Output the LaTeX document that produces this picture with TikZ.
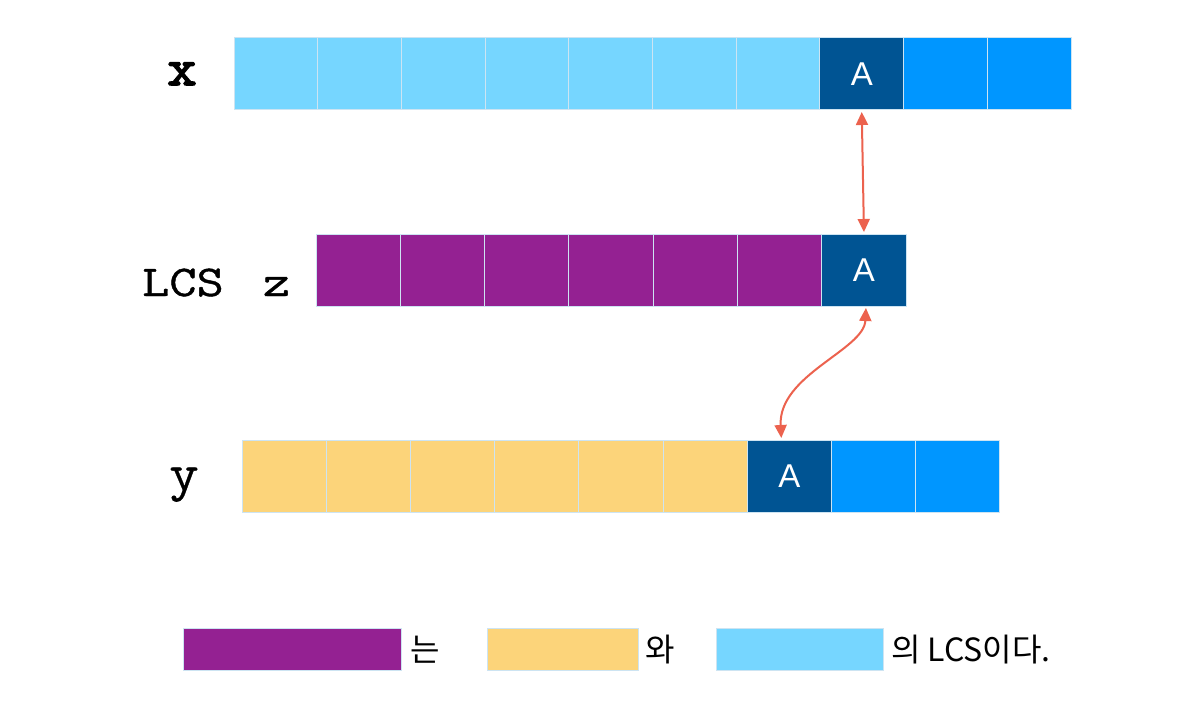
\documentclass[tikz,border=0pt]{standalone}
\usepackage{fontspec}
\setmainfont{Liberation Sans}
\newfontfamily\courier{Latin Modern Mono}[FakeStretch=1.2, FakeBold=1]
\newfontfamily\couriery{Latin Modern Mono}[FakeStretch=1.1, FakeBold=0.6]
\newfontfamily\courierbold{Latin Modern Mono}[FakeStretch=1.1, FakeBold=3]
\newfontfamily\krfont{Noto Sans CJK KR}
\usetikzlibrary{arrows.meta}
\definecolor{lightblue}{RGB}{118,214,255}
\definecolor{brightblue}{RGB}{0,150,255}
\definecolor{darkblue}{RGB}{0,84,147}
\definecolor{plum}{RGB}{148,33,146}
\definecolor{cantaloupe}{RGB}{252,212,122}
\definecolor{arrowred}{RGB}{236,98,78}
\definecolor{cellline}{RGB}{205,228,242}
\tikzset{
  cell/.style={draw=cellline, line width=1pt, minimum height=72pt, inner sep=0pt, outer sep=0pt},
  lbl/.style={font=\courier\fontsize{44}{44}\selectfont, inner sep=0pt, anchor=base},
  letter/.style={text=white, font=\fontsize{33}{33}\selectfont},
  legend/.style={draw=cellline, line width=1pt, minimum height=42pt, inner sep=0pt, outer sep=0pt},
  kr/.style={font=\krfont\fontsize{32}{32}\selectfont, inner sep=0pt},
  arr/.style={draw=arrowred, line width=2pt, {Triangle[length=13pt,width=12pt]}-{Triangle[length=13pt,width=12pt]}}
}
\begin{document}
\begin{tikzpicture}[x=1pt,y=-1pt]
\useasboundingbox[fill=white] (0,0) rectangle (1204,714);
% row x
\foreach \i in {0,...,6}{
  \node[cell, fill=lightblue, minimum width=83.7pt] (x\i) at ({234+83.7*\i+41.85},74) {};
}
\node[cell, fill=darkblue, minimum width=83.7pt] (xA) at ({234+83.7*7+41.85},74) {};
\node[letter] (xAt) at (xA.center) {A};
\node[cell, fill=brightblue, minimum width=83.7pt] (x8) at ({234+83.7*8+41.85},74) {};
\node[cell, fill=brightblue, minimum width=83.7pt] (x9) at ({234+83.7*9+41.85},74) {};
% row z
\foreach \i in {0,...,5}{
  \node[cell, fill=plum, minimum width=84.3pt] (z\i) at ({316+84.3*\i+42.15},270) {};
}
\node[cell, fill=darkblue, minimum width=84.3pt] (zA) at ({316+84.3*6+42.15},270) {};
\node[letter] (zAt) at (zA.center) {A};
% row y
\foreach \i in {0,...,5}{
  \node[cell, fill=cantaloupe, minimum width=84.2pt] (y\i) at ({242+84.2*\i+42.1},476) {};
}
\node[cell, fill=darkblue, minimum width=84.2pt] (yA) at ({242+84.2*6+42.1},476) {};
\node[letter] (yAt) at (yA.center) {A};
\node[cell, fill=brightblue, minimum width=84.2pt] (y7) at ({242+84.2*7+42.1},476) {};
\node[cell, fill=brightblue, minimum width=84.2pt] (y8) at ({242+84.2*8+42.1},476) {};
% labels
\node[lbl, font=\courierbold\fontsize{52}{52}\selectfont] (lx) at (182,85) {x};
\node[lbl, anchor=base west] (lz) at (142,296) {LCS\hspace{12pt} z};
\node[lbl, font=\couriery\fontsize{52}{52}\selectfont] (ly) at (184,490) {y};
% arrows
\draw[arr] ([yshift=-2pt]xA.south) -- ([yshift=2pt]zA.north);
\draw[arr] ([xshift=2pt,yshift=-2pt]zA.south) .. controls (864,350) and (778,375) .. ([xshift=-8pt,yshift=2pt]yA.north);
% legend
\node[legend, fill=plum, minimum width=218pt] (lg1) at (292,649) {};
\node[kr] (t1) at (425,650) {는};
\node[legend, fill=cantaloupe, minimum width=151pt] (lg2) at (562.5,649) {};
\node[kr] (t2) at (660,650) {와};
\node[legend, fill=lightblue, minimum width=167pt] (lg3) at (799.5,649) {};
\node[kr, anchor=west] (t3) at (891,650) {의 LCS이다.};
\end{tikzpicture}
\end{document}
